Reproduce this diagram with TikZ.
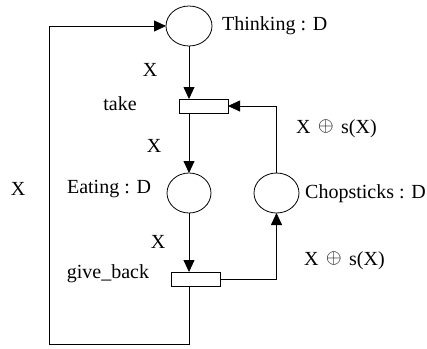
\documentclass[tikz,border=0pt]{standalone}
\usepackage{fontspec}
\setmainfont{Liberation Serif}
\usetikzlibrary{arrows.meta,shapes.geometric}
% circled plus sized to the capital height of the label font
\newcommand{\capoplus}{\raisebox{1.6pt}{\scalebox{2.0}{\fontsize{10}{12}\selectfont$\oplus$}}}
\newcommand{\xoplus}{X\hspace{7.5pt}\capoplus\hspace{7.5pt}s(X)}
\begin{document}
\begin{tikzpicture}[x=1pt,y=-1pt,
  every node/.style={font=\fontsize{20}{24}\selectfont},
  place/.style={ellipse,draw,line width=0.8pt,inner sep=0pt,outer sep=0pt},
  trans/.style={rectangle,draw,line width=0.8pt,inner sep=0pt,outer sep=0pt,minimum width=49pt,minimum height=14pt},
  arc/.style={draw,line width=0.8pt},
  arr/.style={arc,-{Triangle[length=12pt,width=11pt]}},
  lbl/.style={inner sep=0pt,anchor=base}]
\useasboundingbox (0,0) rectangle (427,348);

% places
\node[place,minimum width=46pt,minimum height=40pt] (think) at (189,26) {};
\node[place,minimum width=44pt,minimum height=40pt] (eat) at (189,193) {};
\node[place,minimum width=45pt,minimum height=40pt] (chop) at (276.5,193) {};

% transitions
\node[trans] (take) at (203.5,106) {};
\node[trans] (give) at (195.5,279) {};

% place and transition names
\node[lbl,anchor=base west] (thinkname) at (222,30) {Thinking : D};
\node[lbl] (takename) at (120,110) {take};
\node[lbl] (eatname) at (109,193) {Eating : D};
\node[lbl,anchor=base west] (chopname) at (305,198) {Chopsticks : D};
\node[lbl] (givename) at (108,278) {give\_back};

% arcs
\draw[arr] (think.south) -- (take.north -| think.south);
\draw[arr] (take.south -| eat.north) -- (eat.north);
\draw[arr] (chop.north) |- (take.east);
\draw[arr] (eat.south) -- (give.north -| eat.south);
\draw[arr] (give.east) -| (chop.south);
\coordinate (corner) at (49,344);
\draw[arr] (give.south -| eat.south) |- (corner) |- (think.west);

% arc inscriptions
\node[lbl] (a1) at (150,76) {X};
\node[lbl] (a2) at (154,152) {X};
\node[lbl] (a3) at (158,248) {X};
\node[lbl] (a4) at (18,195) {X};
\node[lbl,anchor=base west] (a5) at (296,133) {\xoplus};
\node[lbl,anchor=base west] (a6) at (304,265) {\xoplus};
\end{tikzpicture}
\end{document}
